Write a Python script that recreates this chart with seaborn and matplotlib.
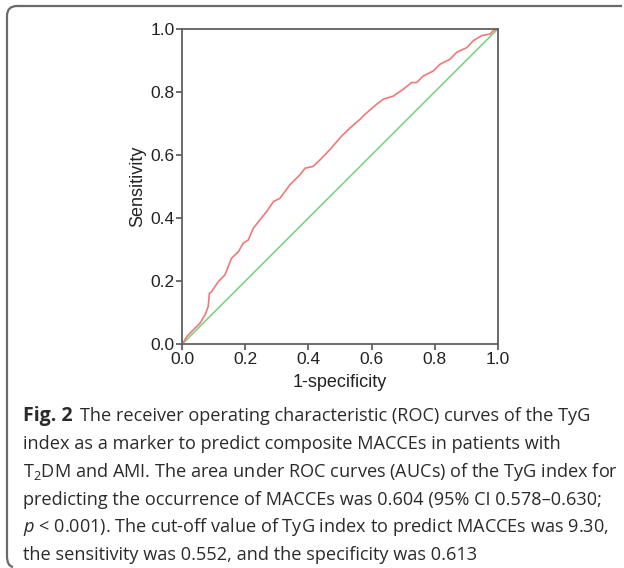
import matplotlib
matplotlib.use("Agg")
import matplotlib.pyplot as plt
import seaborn as sns
import pandas as pd
from matplotlib.patches import PathPatch
from matplotlib.path import Path

# ROC curve data (1-specificity, sensitivity)
fpr = [0.0, 0.014, 0.03, 0.056, 0.072, 0.082, 0.086, 0.093, 0.114, 0.135, 0.156,
       0.178, 0.193, 0.209, 0.225, 0.246, 0.267, 0.289, 0.31, 0.341, 0.373, 0.389,
       0.415, 0.437, 0.468, 0.505, 0.532, 0.563, 0.579, 0.616, 0.637, 0.669, 0.701,
       0.727, 0.743, 0.764, 0.796, 0.817, 0.849, 0.87, 0.902, 0.923, 0.949, 0.976,
       0.986, 1.0]
tpr = [0.0, 0.023, 0.04, 0.066, 0.092, 0.118, 0.161, 0.166, 0.198, 0.219, 0.272,
       0.293, 0.32, 0.33, 0.367, 0.394, 0.42, 0.452, 0.463, 0.505, 0.537, 0.558,
       0.564, 0.585, 0.617, 0.66, 0.686, 0.713, 0.729, 0.761, 0.777, 0.787, 0.809,
       0.83, 0.83, 0.851, 0.867, 0.888, 0.904, 0.926, 0.941, 0.963, 0.979, 0.984,
       0.995, 1.0]
ref_x = [0.0, 1.0]
ref_y = [0.0, 1.0]
ticks = [0.0, 0.2, 0.4, 0.6, 0.8, 1.0]
tick_labels = ["0.0", "0.2", "0.4", "0.6", "0.8", "1.0"]
xlabel = "1-specificity"
ylabel = "Sensitivity"

caption_lines = [
    None,
    "index as a marker to predict composite MACCEs in patients with",
    "T$_{\\mathrm{2}}$DM and AMI. The area under ROC curves (AUCs) of the TyG index for",
    "predicting the occurrence of MACCEs was 0.604 (95% CI 0.578\u20130.630;",
    "$\\mathit{p}$ < 0.001). The cut-off value of TyG index to predict MACCEs was 9.30,",
    "the sensitivity was 0.552, and the specificity was 0.613",
]
caption_bold = "Fig. 2"
caption_first = "The receiver operating characteristic (ROC) curves of the TyG"

sns.set_style("ticks")
plt.rcParams["font.family"] = ["Liberation Sans", "DejaVu Sans"]
plt.rcParams["mathtext.fontset"] = "custom"
plt.rcParams["mathtext.rm"] = "Open Sans"
plt.rcParams["mathtext.it"] = "Open Sans:italic"

W, H = 624, 568
fig = plt.figure(figsize=(W / 100, H / 100), dpi=100)
ax = fig.add_axes([182.3 / W, 1 - 344 / H, (497.7 - 182.3) / W, (344 - 29) / H])

roc = pd.DataFrame({"x": fpr, "y": tpr})
ref = pd.DataFrame({"x": ref_x, "y": ref_y})
sns.lineplot(data=ref, x="x", y="y", ax=ax, color="#7fd384", lw=1.2, sort=False)
sns.lineplot(data=roc, x="x", y="y", ax=ax, color="#f07878", lw=1.2, sort=False)

ax.set_xlim(0, 1)
ax.set_ylim(0, 1)
ax.set_xticks(ticks)
ax.set_xticklabels(tick_labels)
ax.set_yticks(ticks)
ax.set_yticklabels(tick_labels)
ax.tick_params(direction="out", length=4, width=1.2, color="#555555",
               labelsize=12.5, labelcolor="#222222", pad=1.5)
for s in ax.spines.values():
    s.set_visible(True)
    s.set_color("#606060")
    s.set_linewidth(1.3)
ax.set_xlabel(xlabel, fontsize=13, color="#222222", labelpad=5)
ax.set_ylabel(ylabel, fontsize=13, color="#222222", labelpad=3)

# Border (top and left with rounded corners)
r = 10
x0, y0 = 7, 6
verts_px = [(622, y0), (x0 + r, y0), (x0, y0), (x0, y0 + r), (x0, 566 - r), (x0, 566), (x0 + 6, 567)]
codes = [Path.MOVETO, Path.LINETO, Path.CURVE3, Path.CURVE3, Path.LINETO, Path.CURVE3, Path.CURVE3]
verts = [(vx / W, 1 - vy / H) for vx, vy in verts_px]
fig.add_artist(PathPatch(Path(verts, codes), transform=fig.transFigure,
                         fill=False, edgecolor="#6a6a6a", lw=1.6))

# Caption: fit font size so line 2 spans the same width as in the reference
cap_color = "#2a2a2a"
baselines = [421, 449, 477, 505, 532.5, 560]
xl = 22.7 / W
probe = fig.text(xl, 0.5, caption_lines[1], fontsize=14, family="Open Sans")
fig.canvas.draw()
pw = probe.get_window_extent().width
probe.remove()
cap_fs = 14 * (564 - 22.7) / pw

t = fig.text(xl, 1 - baselines[0] / H, caption_bold, fontsize=cap_fs * 1.08, fontweight="bold",
             family="Open Sans", color=cap_color, va="baseline", ha="left")
fig.canvas.draw()
bb = t.get_window_extent()
fig.text((bb.x1 + 8) / W, 1 - baselines[0] / H, caption_first, fontsize=cap_fs,
         family="Open Sans", color=cap_color, va="baseline", ha="left")
for line, yb in zip(caption_lines[1:], baselines[1:]):
    fig.text(xl, 1 - yb / H, line, fontsize=cap_fs, family="Open Sans",
             color=cap_color, va="baseline", ha="left")

fig.savefig("out.png", dpi=100)
